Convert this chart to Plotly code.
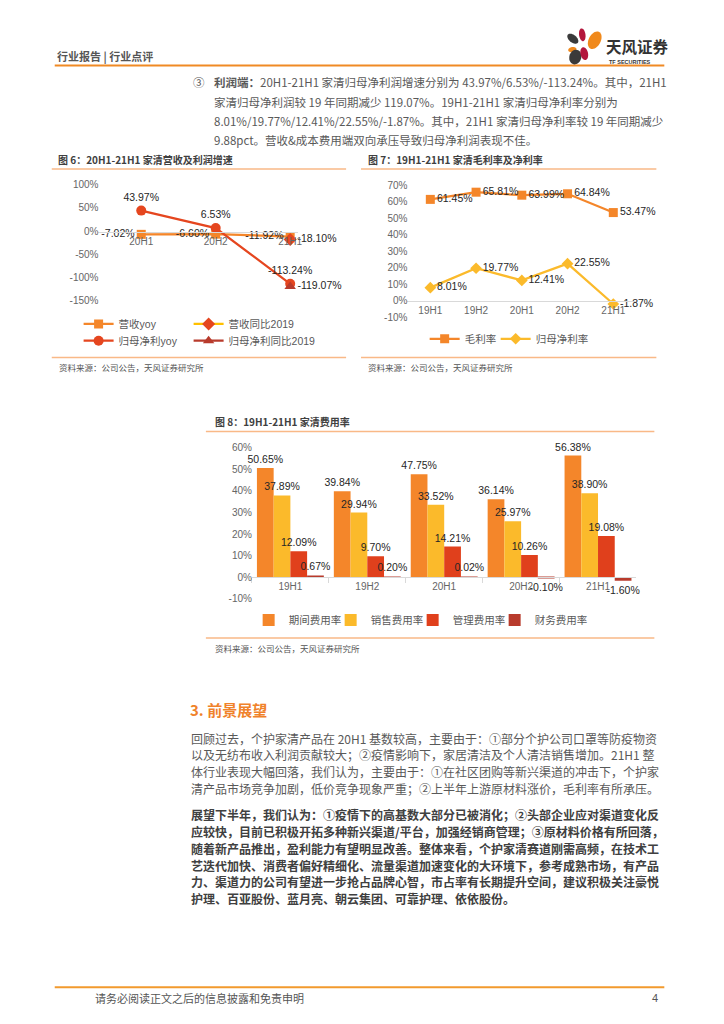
import math
import plotly.graph_objects as go

# page is rendered with an 8px body margin -> work in page pixels and shift
OFF = 8
W, H = 716, 1016
def X(p): return (p - OFF) / W
def Y(p): return 1 - (p - OFF) / H

FONT = "Liberation Sans, Noto Sans CJK SC, sans-serif"
CJK = "Noto Sans CJK SC, Liberation Sans, sans-serif"

ORANGE = "#F4862A"
RED = "#E5461F"
YELLOW = "#FBBA2B"
DARKRED = "#B83B2C"
SEP = "#F9B987"
TICK = "#666666"
LABEL = "#262626"

# ---------------- data ----------------
fig6_categories = ["20H1", "20H2", "21H1"]
fig6_revenue_yoy = [-7.02, -6.60, -11.92]
fig6_revenue_vs2019 = [None, None, -18.10]
fig6_profit_yoy = [43.97, 6.53, -113.24]
fig6_profit_vs2019 = [None, None, -119.07]
fig6_names = ["营收yoy", "营收同比2019", "归母净利yoy", "归母净利同比2019"]
fig6_yticks = [100, 50, 0, -50, -100, -150]

fig7_categories = ["19H1", "19H2", "20H1", "20H2", "21H1"]
fig7_gross_margin = [61.45, 65.81, 63.99, 64.84, 53.47]
fig7_net_margin = [8.01, 19.77, 12.41, 22.55, -1.87]
fig7_names = ["毛利率", "归母净利率"]
fig7_yticks = [70, 60, 50, 40, 30, 20, 10, 0, -10]

fig8_categories = ["19H1", "19H2", "20H1", "20H2", "21H1"]
fig8_period_rate = [50.65, 39.84, 47.75, 36.14, 56.38]
fig8_sales_rate = [37.89, 29.94, 33.52, 25.97, 38.90]
fig8_admin_rate = [12.09, 9.70, 14.21, 10.26, 19.08]
fig8_finance_rate = [0.67, 0.20, 0.02, -0.10, -1.60]
fig8_names = ["期间费用率", "销售费用率", "管理费用率", "财务费用率"]
fig8_yticks = [60, 50, 40, 30, 20, 10, 0, -10]

fig = go.Figure()
lblfont = dict(size=10.5, color=LABEL, family=FONT)

# ---------------- chart 6 ----------------
fig.add_trace(go.Scatter(
    x=fig6_categories, y=fig6_revenue_yoy, name=fig6_names[0], mode="lines+markers+text",
    line=dict(color=ORANGE, width=2.25), marker=dict(symbol="square", size=9, color=ORANGE),
    texttemplate="%{y:.2f}%", textposition="middle left", textfont=lblfont,
    xaxis="x", yaxis="y", legend="legend", legendwidth=65, cliponaxis=False))
fig.add_trace(go.Scatter(
    x=fig6_categories, y=fig6_revenue_vs2019, name=fig6_names[1], mode="lines+markers+text",
    line=dict(color="#FFC000", width=2.25), marker=dict(symbol="diamond", size=10, color=RED),
    texttemplate="%{y:.2f}%", textposition="middle right", textfont=lblfont,
    xaxis="x", yaxis="y", legend="legend", legendwidth=80, cliponaxis=False))
fig.add_trace(go.Scatter(
    x=fig6_categories, y=fig6_profit_yoy, name=fig6_names[2], mode="lines+markers+text",
    line=dict(color=RED, width=2.25), marker=dict(symbol="circle", size=10, color=RED),
    texttemplate="%{y:.2f}%", textposition="top center", textfont=lblfont,
    xaxis="x", yaxis="y", legend="legend2", legendwidth=65, cliponaxis=False))
fig.add_trace(go.Scatter(
    x=fig6_categories, y=fig6_profit_vs2019, name=fig6_names[3], mode="lines+markers+text",
    line=dict(color=DARKRED, width=2.25), marker=dict(symbol="triangle-up", size=10, color=DARKRED),
    texttemplate="%{y:.2f}%", textposition="middle right", textfont=lblfont,
    xaxis="x", yaxis="y", legend="legend2", legendwidth=100, cliponaxis=False))

# ---------------- chart 7 ----------------
fig.add_trace(go.Scatter(
    x=fig7_categories, y=fig7_gross_margin, name=fig7_names[0], mode="lines+markers+text",
    line=dict(color=ORANGE, width=2.25), marker=dict(symbol="square", size=9, color=ORANGE),
    texttemplate="%{y:.2f}%", textposition="middle right", textfont=lblfont,
    xaxis="x2", yaxis="y2", legend="legend3", legendwidth=26, cliponaxis=False))
fig.add_trace(go.Scatter(
    x=fig7_categories, y=fig7_net_margin, name=fig7_names[1], mode="lines+markers+text",
    line=dict(color=YELLOW, width=2.25), marker=dict(symbol="diamond", size=9, color=YELLOW),
    texttemplate="%{y:.2f}%", textposition="middle right", textfont=lblfont,
    xaxis="x2", yaxis="y2", legend="legend3", legendwidth=60, cliponaxis=False))

# ---------------- chart 8 ----------------
for vals, name, col, lw in zip([fig8_period_rate, fig8_sales_rate, fig8_admin_rate, fig8_finance_rate],
                               fig8_names, [ORANGE, YELLOW, "#E0401C", DARKRED], [37, 37, 37, 58]):
    fig.add_trace(go.Bar(
        x=fig8_categories, y=vals, name=name, marker=dict(color=col, line=dict(width=0)),
        texttemplate="%{y:.2f}%", textposition="outside", textfont=lblfont,
        constraintext="none", cliponaxis=False,
        xaxis="x3", yaxis="y3", legend="legend4", legendwidth=lw))

tickfont = dict(size=10, color=TICK, family=FONT)
def yax(dom, pos, rng, ticks):
    span = rng[1] - rng[0]
    return dict(domain=[Y(dom[0]), Y(dom[1])], anchor="free", position=X(pos),
                range=[rng[0] - span * 0.002, rng[1] + span * 0.002],
                tickmode="array", tickvals=ticks, ticktext=[f"{t}%" for t in ticks],
                showgrid=False, zeroline=False, showline=False, ticks="",
                tickfont=tickfont)
common_x = dict(type="category", showgrid=False, zeroline=False, showline=True,
                linecolor="#D9D9D9", linewidth=1, tickfont=tickfont, anchor="free")

legfont = dict(size=10.5, color="#595959", family=FONT)
def leg(x, y):
    return dict(x=X(x), y=Y(y), xanchor="left", yanchor="middle", orientation="h",
                font=legfont, bgcolor="rgba(0,0,0,0)", itemwidth=30, traceorder="normal",
                itemclick=False, itemdoubleclick=False)

fig.update_layout(
    width=W, height=H, margin=dict(l=0, r=0, t=0, b=0),
    paper_bgcolor="white", plot_bgcolor="white", showlegend=True,
    barmode="group", bargap=0.13, bargroupgap=0,
    xaxis=dict(common_x, domain=[X(99), X(300)], position=Y(229), range=[-0.574, 2.11], ticks=""),
    yaxis=yax((299, 181), 99, (-150, 100), fig6_yticks),
    xaxis2=dict(common_x, domain=[X(409.7), X(639.7)], position=Y(299), range=[-0.5, 4.5], ticks=""),
    yaxis2=yax((315.7, 181.7), 409.7, (-10, 70), fig7_yticks),
    xaxis3=dict(common_x, domain=[X(253.3), X(640)], position=Y(578), range=[-0.5, 4.5],
                ticks="outside", tickson="boundaries", ticklen=5, tickcolor="#D9D9D9"),
    yaxis3=yax((600, 446.7), 253.3, (-10, 60), fig8_yticks),
    legend=leg(79, 322),
    legend2=leg(79, 339),
    legend3=leg(427, 337),
    legend4=leg(250, 621),
)

shapes = []
def hline(x0, x1, y, color=SEP, width=1.5):
    shapes.append(dict(type="line", xref="paper", yref="paper", x0=X(x0), x1=X(x1), y0=Y(y), y1=Y(y),
                       line=dict(color=color, width=width)))

hline(55, 668, 61, color="#F08A24", width=2)
hline(52, 348, 165.5)
hline(363, 660, 165.5)
hline(52, 348, 356)
hline(363, 660, 356)
hline(207, 658, 430.7)
hline(207, 658, 639.3)
hline(55, 668, 992, color="#F29A2E", width=2)

def ellipse(cx, cy, rx, ry, ang, color):
    a = math.radians(ang)
    pts = []
    for i in range(36):
        t = 2 * math.pi * i / 36
        ex, ey = rx * math.cos(t), ry * math.sin(t)
        px_ = cx + ex * math.cos(a) - ey * math.sin(a)
        py_ = cy + ex * math.sin(a) + ey * math.cos(a)
        pts.append(f"{X(px_):.5f},{Y(py_):.5f}")
    path = "M" + " L".join(pts) + " Z"
    shapes.append(dict(type="path", xref="paper", yref="paper", path=path,
                       fillcolor=color, line=dict(width=0)))

ellipse(576, 34, 6.5, 3.8, 40, "#3A3A3A")
ellipse(585.5, 30, 3.2, 6.5, -8, "#B3163C")
ellipse(598, 35.5, 6.0, 9.5, 28, "#F0891C")
ellipse(575.5, 45, 4.2, 2.6, -10, "#F0891C")
ellipse(578.5, 52.5, 6.0, 7.5, 15, "#3A3A3A")
ellipse(587.5, 49, 3.8, 6.5, -12, "#B3163C")

annotations = []
def text(x, y, s, size=12, color="#595959", family=CJK, anchor="left"):
    annotations.append(dict(x=X(x), y=Y(y), xref="paper", yref="paper", text=s, showarrow=False,
                            xanchor=anchor, yanchor="middle", font=dict(size=size, color=color, family=family)))

# header
text(55, 51, "<b>行业报告 | 行业点评</b>", size=11, color="#555555")
text(607, 41.5, "<b>天风证券</b>", size=15.5, color="#333333")
text(610, 57, "<b>TF SECURITIES</b>", size=5.5, color="#333333", family=FONT)

# paragraph 3
text(192, 78, "③", size=11.5)
p3 = [
    "<b>利润端：</b>20H1-21H1 家清归母净利润增速分别为 43.97%/6.53%/-113.24%。其中，21H1",
    "家清归母净利润较 19 年同期减少 119.07%。19H1-21H1 家清归母净利率分别为",
    "8.01%/19.77%/12.41%/22.55%/-1.87%。其中，21H1 家清归母净利率较 19 年同期减少",
    "9.88pct。营收&amp;成本费用端双向承压导致归母净利润表现不佳。",
]
for i, s in enumerate(p3):
    text(213, 78 + i * 19.4, s, size=11.5)

# chart titles and sources
text(56, 156, "<b>图 6：20H1-21H1 家清营收及利润增速</b>", size=10, color="#404040")
text(368, 156, "<b>图 7：19H1-21H1 家清毛利率及净利率</b>", size=10, color="#404040")
text(214, 420.5, "<b>图 8：19H1-21H1 家清费用率</b>", size=10, color="#404040")
src = "资料来源：公司公告，天风证券研究所"
text(57, 365.5, src, size=8.5, color="#555555")
text(368, 365.5, src, size=8.5, color="#555555")
text(214, 649, src, size=8.5, color="#555555")

# section 3
text(189, 711, "<b>3. 前景展望</b>", size=15, color="#F0822A")
s1 = [
    "回顾过去，个护家清产品在 20H1 基数较高，主要由于：①部分个护公司口罩等防疫物资",
    "以及无纺布收入利润贡献较大；②疫情影响下，家居清洁及个人清洁销售增加。21H1 整",
    "体行业表现大幅回落，我们认为，主要由于：①在社区团购等新兴渠道的冲击下，个护家",
    "清产品市场竞争加剧，低价竞争现象严重；②上半年上游原材料涨价，毛利率有所承压。",
]
for i, s in enumerate(s1):
    text(190, 740.5 + i * 16.8, s, size=12)
s2 = [
    "展望下半年，我们认为：①疫情下的高基数大部分已被消化；②头部企业应对渠道变化反",
    "应较快，目前已积极开拓多种新兴渠道/平台，加强经销商管理；③原材料价格有所回落，",
    "随着新产品推出，盈利能力有望明显改善。整体来看，个护家清赛道刚需高频，在技术工",
    "艺迭代加快、消费者偏好精细化、流量渠道加速变化的大环境下，参考成熟市场，有产品",
    "力、渠道力的公司有望进一步抢占品牌心智，市占率有长期提升空间，建议积极关注豪悦",
    "护理、百亚股份、蓝月亮、朝云集团、可靠护理、依依股份。",
]
for i, s in enumerate(s2):
    text(190, 817.5 + i * 17.0, "<b>" + s + "</b>", size=12, color="#404040")

# footer
text(93, 1003, "请务必阅读正文之后的信息披露和免责申明", size=11, color="#555555")
text(664, 1003, "4", size=11, color="#555555", family=FONT, anchor="right")

fig.update_layout(shapes=shapes, annotations=annotations)
fig.write_html("out.html")
